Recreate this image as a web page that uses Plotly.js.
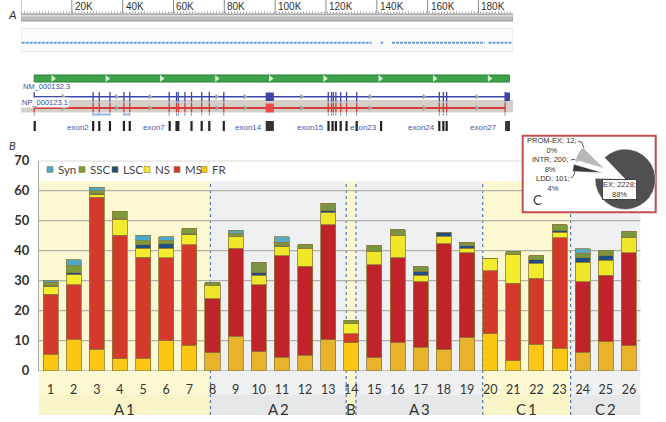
<!DOCTYPE html>
<html><head><meta charset="utf-8">
<script src="https://cdn.plot.ly/plotly-3.0.1.min.js"></script>
<style>html,body{margin:0;padding:0;background:#fff}#chart{width:666px;height:422px}</style>
</head><body><div id="chart"></div>
<script>
// ================= Panel B data =================
const categories = [1,2,3,4,5,6,7,8,9,10,11,12,13,14,15,16,17,18,19,20,21,22,23,24,25,26];
const seriesNames = ['FR','MS','NS','LSC','SSC','Syn'];
const FR  = [5.5,10.5,7.2,4.0,4.2,10.0,8.5,6.0,11.5,6.3,4.5,5.2,10.3,9.3,4.3,9.4,7.8,7.0,11.0,12.4,3.3,8.9,7.5,6.1,9.6,8.3];
const MS  = [20.0,18.2,50.7,41.2,33.7,27.7,33.5,18.0,29.4,22.4,33.8,29.6,38.4,3.0,31.0,28.3,21.8,35.3,28.4,21.0,25.8,22.0,36.9,23.5,22.2,31.0];
const NS  = [2.5,3.3,0.8,5.3,3.0,3.2,3.4,4.3,3.9,3.1,3.1,5.8,3.9,3.3,4.3,7.5,2.2,2.5,1.5,4.0,9.5,5.0,1.7,6.6,5.0,5.2];
const LSC = [0.5,0.6,0.5,0.3,1.1,1.4,0.5,0,0,1.0,0.3,0,0.8,0,0,0,1.4,1.3,0.8,0,0,1.1,0.7,1.4,1.5,0];
const SSC = [1.0,2.4,0.8,2.4,1.3,1.0,1.4,1.1,0.8,3.3,1.2,1.4,2.5,1.2,2.2,1.8,1.4,0,1.1,0,1.0,1.4,1.9,1.6,1.9,2.0];
const Syn = [0.6,2.0,1.1,0,1.9,1.3,0,0,1.2,0,1.7,0,0,0,0,0,0,0,0,0,0,0,0,1.4,0,0];
const yTicks = [0,10,20,30,40,50,60,70];
const regionNames = ['A1','A2','B','A3','C1','C2'];
const regionStart = [0.5,7.91,13.78,14.2,19.68,23.48];
const regionEnd   = [7.91,13.78,14.2,19.68,23.48,26.5];
const regionTone  = ['y','g','y','g','y','g'];
// ================= Panel C data =================
const pieLabels = ['EX','LDD','INTR','PROM-EX'];
const pieValues = [2228,101,200,12];
const piePercents = ['88%','4%','8%','0%'];
// ================= Panel A data (bp) =================
const rulerTicks = [20000,40000,60000,80000,100000,120000,140000,160000,180000];
const rulerTickText = ['20K','40K','60K','80K','100K','120K','140K','160K','180K'];
const geneStart = 5200, geneEnd = 192400, npEnd = 190500;
const exonTicks = [5200,28400,30800,35000,40500,42800,58300,61200,61900,64500,67100,71100,74100,79800,120900,122200,122900,123900,125800,128100,132100,164600,166200,167500,190500];
const exonBlocks = [[96300,99500],[190500,192400]];
const exonBars = [5400,28400,30800,35000,40500,42800,58500,61200,61900,67100,71100,74100,79800,121000,122600,123900,125800,128100,132100,141700,164600,166200,167500];
const exonLabelText = ['exon2','exon7','exon14','exon15','exon23','exon24','exon27'];
const exonLabelPos  = [28100,57900,96000,120300,141300,164200,188500];
const intronArrows = [16600,37600,50700,77000,88100,110400,137300,158600,179300];
const strandArrows = [12600,33900,55300,77000,98200,119600,141300,162700,184300];
const snpSegments = [[300,138000],[141500,142500],[146000,182500],[184000,193000]];
const lightBlueSegs = [[28000,35000],[40500,42800]];

// ================= helpers / layout constants =================
const W = 666, H = 422;
const px = v => v / W, py = v => 1 - v / H;
const xDom = [px(39), px(640.5)], yDom = [py(370.7), py(160.7)];
const gxDom = [px(21), px(513)], gyDom = [py(135), 1];
const gxMax = 193600;
const FONT = 'Lato, "Open Sans", sans-serif';
const SANS = '"Liberation Sans", Arial, sans-serif';

const colBright = {FR:'#fcc712', MS:'#d33a2c', NS:'#f3ec2c', LSC:'#1f4f80', SSC:'#7c9c3c', Syn:'#4ea8cc'};
const colDull   = {FR:'#e9b22b', MS:'#c0242b', NS:'#efe62a', LSC:'#1f4f80', SSC:'#7a9440', Syn:'#5aaac4'};
const seriesData = {FR, MS, NS, LSC, SSC, Syn};

function toneOf(c) {
  for (let i = 0; i < regionNames.length; i++) if (c >= regionStart[i] && c < regionEnd[i]) return regionTone[i];
  return 'g';
}
const traces = [];
seriesNames.forEach(n => {
  traces.push({
    type: 'bar', name: n, x: categories, y: seriesData[n], xaxis: 'x', yaxis: 'y',
    marker: {color: categories.map(c => toneOf(c) === 'y' ? colBright[n] : colDull[n]),
             line: {color: '#8c7a3c', width: 0.8}},
    showlegend: false, hoverinfo: 'skip'
  });
});

// ---------- genome track traces ----------
function segs(list, y0, y1) {
  const x = [], y = [];
  list.forEach(p => { x.push(p, p, null); y.push(y0, y1, null); });
  return {x, y};
}
function hsegs(list, yv) {
  const x = [], y = [];
  list.forEach(s => { x.push(s[0], s[1], null); y.push(yv, yv, null); });
  return {x, y};
}
const g = {xaxis: 'x2', yaxis: 'y2', showlegend: false, hoverinfo: 'skip'};
const rt = segs(rulerTicks, 0, 13);
traces.push(Object.assign({type: 'scatter', mode: 'lines', x: rt.x, y: rt.y, line: {color: '#8a8a8a', width: 1}}, g));
const sn = hsegs(snpSegments, 42.7);
traces.push(Object.assign({type: 'scatter', mode: 'lines', x: sn.x, y: sn.y, line: {color: '#6f9ddb', width: 2, dash: '3px,1px'}}, g));
traces.push(Object.assign({type: 'scatter', mode: 'markers', x: strandArrows, y: strandArrows.map(() => 78.5),
  marker: {symbol: 'triangle-right', size: 6, color: '#d9f0d4'}}, g));
// NM transcript
traces.push(Object.assign({type: 'scatter', mode: 'lines', x: [geneStart, geneEnd], y: [96.7, 96.7], line: {color: '#3b46a8', width: 1.5}}, g));
const nt = segs(exonTicks, 92, 101.5);
traces.push(Object.assign({type: 'scatter', mode: 'lines', x: nt.x, y: nt.y, line: {color: '#3b46a8', width: 1.3}}, g));
const ns = segs(exonTicks, 102.5, 104);
traces.push(Object.assign({type: 'scatter', mode: 'lines', x: ns.x, y: ns.y, line: {color: '#5070c0', width: 1}}, g));
traces.push(Object.assign({type: 'scatter', mode: 'markers', x: intronArrows, y: intronArrows.map(() => 96.7),
  marker: {symbol: 'triangle-right', size: 5, color: '#a0a0a0'}}, g));
// NP protein
traces.push(Object.assign({type: 'scatter', mode: 'lines', x: [geneStart, npEnd], y: [108, 108], line: {color: '#d83a3a', width: 2}}, g));
const pt = segs(exonTicks, 103.5, 112.5);
traces.push(Object.assign({type: 'scatter', mode: 'lines', x: pt.x, y: pt.y, line: {color: '#d83a3a', width: 1.3}}, g));
traces.push(Object.assign({type: 'scatter', mode: 'markers', x: intronArrows, y: intronArrows.map(() => 108),
  marker: {symbol: 'triangle-right', size: 5, color: '#a0a0a0'}}, g));
const ps = segs(exonTicks, 113.5, 115.5);
traces.push(Object.assign({type: 'scatter', mode: 'lines', x: ps.x, y: ps.y, line: {color: '#5070c0', width: 1}}, g));
const lb = hsegs(lightBlueSegs, 114.5);
traces.push(Object.assign({type: 'scatter', mode: 'lines', x: lb.x, y: lb.y, line: {color: '#8ab8e8', width: 2}}, g));
// exon bars
const eb = segs(exonBars, 121, 131);
traces.push(Object.assign({type: 'scatter', mode: 'lines', x: eb.x, y: eb.y, line: {color: '#222', width: 2.2}}, g));

// ---------- pie ----------
const pieCx = 614.5, pieCy = 174.5, pieS = 84;
traces.push({
  type: 'pie', labels: pieLabels, values: pieValues, sort: false, direction: 'clockwise', rotation: -43.7,
  pull: [0.39, 0.39, 0.39, 0.39], textinfo: 'none', hoverinfo: 'skip', showlegend: false,
  marker: {colors: ['#505050', '#3a3a3a', '#b8b8b8', '#e6e6e6'], line: {color: '#ffffff', width: 0.5}},
  domain: {x: [px(pieCx - pieS / 2), px(pieCx + pieS / 2)], y: [py(pieCy + pieS / 2), py(pieCy - pieS / 2)]}
});

// ================= shapes =================
const shapes = [];
const toneFill = {y: '#fcf9d2', g: '#eef0f2'};
const toneFill2 = {y: '#f8f4c8', g: '#e6e7e9'};
regionNames.forEach((r, i) => {
  shapes.push({type: 'rect', layer: 'below', xref: 'x', yref: 'paper', x0: regionStart[i], x1: regionEnd[i],
    y0: py(395), y1: py(181), fillcolor: toneFill[regionTone[i]], line: {width: 0}});
  shapes.push({type: 'rect', layer: 'below', xref: 'x', yref: 'paper', x0: regionStart[i], x1: regionEnd[i],
    y0: py(415), y1: py(395), fillcolor: toneFill2[regionTone[i]], line: {width: 0}});
});
regionEnd.slice(0, -1).forEach(b => {
  shapes.push({type: 'line', layer: 'below', xref: 'x', yref: 'paper', x0: b, x1: b, y0: py(415), y1: py(181),
    line: {color: '#4f7cae', width: 1.2, dash: '3px,3px'}});
});
yTicks.forEach(v => {
  shapes.push({type: 'line', layer: 'below', xref: 'paper', yref: 'y', x0: xDom[0], x1: xDom[1], y0: v, y1: v,
    line: {color: '#b2b2aa', width: 1.3}});
});
// pie inset box
shapes.push({type: 'rect', layer: 'below', xref: 'paper', yref: 'paper', x0: px(522.7), x1: px(655.7), y0: py(212.3), y1: py(135.7),
  fillcolor: '#ffffff', line: {color: '#c0504d', width: 2}});
function pth(pts) { return 'M' + pts.map(p => px(p[0]) + ',' + py(p[1])).join(' L'); }
[[[578, 141.5], [581.5, 142], [584, 148]], [[571, 160], [574.5, 159.3], [578, 161.5]], [[571, 178], [573.5, 176], [575, 171]]]
  .forEach(p => shapes.push({type: 'path', layer: 'below', xref: 'paper', yref: 'paper', path: pth(p), line: {color: '#222', width: 0.8}}));

// legend squares
const legendOrder = ['Syn', 'SSC', 'LSC', 'NS', 'MS', 'FR'];
const legendLeft = [47, 79, 112, 144, 174, 201];
legendOrder.forEach((n, i) => {
  shapes.push({type: 'rect', layer: 'above', xref: 'paper', yref: 'paper', x0: px(legendLeft[i]), x1: px(legendLeft[i] + 6),
    y0: py(172.5), y1: py(166.5), fillcolor: colBright[n], line: {color: '#8c7a3c', width: 0.6}});
});

// genome shapes
const gs = (o) => Object.assign({xref: 'x2', yref: 'y2'}, o);
shapes.push(gs({type: 'line', layer: 'below', x0: 0, x1: gxMax, y0: 12.5, y1: 12.5, line: {color: '#999', width: 1.5, dash: '1px,2px'}}));
shapes.push(gs({type: 'line', layer: 'below', x0: 0, x1: 0, y0: 0, y1: 14, line: {color: '#999', width: 1}}));
shapes.push(gs({type: 'rect', layer: 'below', x0: 0, x1: gxMax, y0: 14, y1: 21, fillcolor: '#bdbdbd', line: {color: '#979797', width: 1}}));
shapes.push(gs({type: 'line', layer: 'below', x0: 0, x1: gxMax, y0: 15.8, y1: 15.8, line: {color: '#dedede', width: 1.5}}));
shapes.push(gs({type: 'rect', layer: 'below', x0: 0, x1: gxMax, y0: 28.3, y1: 51.7, fillcolor: '#fbfbfb', line: {color: '#e2e2e2', width: 1}}));
shapes.push(gs({type: 'rect', layer: 'below', x0: geneStart, x1: 192200, y0: 75, y1: 82, fillcolor: '#3ca34b', line: {color: '#2c7f36', width: 1}}));
shapes.push(gs({type: 'rect', layer: 'below', x0: 0, x1: gxMax, y0: 100, y1: 112.5, fillcolor: '#d4cfc7', line: {width: 0}}));
exonBlocks.forEach((b, i) => {
  shapes.push(gs({type: 'rect', layer: 'above', x0: b[0], x1: b[1], y0: 92.5, y1: 101, fillcolor: '#3b46a8', line: {width: 0}}));
  if (i === 0) shapes.push(gs({type: 'rect', layer: 'above', x0: b[0], x1: b[1], y0: 103.5, y1: 112.5, fillcolor: '#ea4a4a', line: {width: 0}}));
  shapes.push(gs({type: 'rect', layer: 'above', x0: b[0], x1: b[1], y0: 121, y1: 131, fillcolor: '#333', line: {width: 0}}));
});

// ================= annotations =================
const ann = [];
const txt = (o) => Object.assign({showarrow: false, xref: 'paper', yref: 'paper', xanchor: 'center', yanchor: 'middle'}, o);
ann.push(txt({x: px(12), y: py(14), text: '<i>A</i>', font: {family: FONT, size: 12, color: '#333'}}));
ann.push(txt({x: px(12), y: py(145), text: '<i>B</i>', font: {family: FONT, size: 11, color: '#333'}}));
ann.push(txt({x: px(537), y: py(200), text: 'C', font: {family: FONT, size: 13, color: '#333'}}));
legendOrder.forEach((n, i) => ann.push(txt({x: px(legendLeft[i] + 9), y: py(169.5), xanchor: 'left',
  text: n, font: {family: FONT, size: 11.5, color: '#444'}})));
regionNames.forEach((r, i) => ann.push(txt({xref: 'x', x: (regionStart[i] + regionEnd[i]) / 2, y: py(409),
  text: r.split('').join('\u2009'), font: {family: FONT, size: 15, color: '#333'}})));
// pie labels
const pieLbl = [[1, 553, 183.3], [2, 550, 164.2], [3, 552, 145.6]];
pieLbl.forEach(([i, x, y]) => {
  ann.push(txt({x: px(x), y: py(y), text: pieLabels[i] + '; ' + pieValues[i] + ';<br>' + piePercents[i],
    font: {family: SANS, size: 7.5, color: '#333'}}));
});
ann.push(txt({x: px(619), y: py(189.5), text: pieLabels[0] + '; ' + pieValues[0] + ';<br>' + piePercents[0],
  font: {family: SANS, size: 7.5, color: '#333'}, bgcolor: '#ffffff', bordercolor: '#444', borderwidth: 1, borderpad: 0}));
// genome labels
rulerTicks.forEach((t, i) => ann.push({showarrow: false, xref: 'x2', yref: 'y2', x: t, y: 6, xanchor: 'left', yanchor: 'middle', xshift: 1,
  text: rulerTickText[i], font: {family: SANS, size: 10, color: '#333'}}));
ann.push({showarrow: false, xref: 'x2', yref: 'y2', x: 0, y: 86, xanchor: 'left', yanchor: 'middle', text: 'NM_000132.3',
  font: {family: SANS, size: 7.5, color: '#3050a0'}});
ann.push({showarrow: false, xref: 'x2', yref: 'y2', x: 0, y: 102.5, xanchor: 'left', yanchor: 'middle', text: 'NP_000123.1',
  bgcolor: 'rgba(255,255,255,0.95)', borderpad: 0, font: {family: SANS, size: 7.5, color: '#3050a0'}});
exonLabelText.forEach((t, i) => ann.push({showarrow: false, xref: 'x2', yref: 'y2', x: exonLabelPos[i], y: 127, xanchor: 'right',
  yanchor: 'middle', xshift: -1, text: t, font: {family: SANS, size: 8, color: '#3a5aa8'}}));

const layout = {
  width: W, height: H, margin: {l: 0, r: 0, t: 0, b: 0}, paper_bgcolor: '#ffffff', plot_bgcolor: 'rgba(0,0,0,0)',
  barmode: 'stack', bargap: 0.35, showlegend: false,
  xaxis: {domain: xDom, anchor: 'y', range: [0.5, 26.5], tickvals: categories, ticktext: categories.map(String),
    ticks: 'outside', ticklen: 7, tickcolor: 'rgba(0,0,0,0)', showgrid: false, zeroline: false, showline: false,
    tickfont: {family: FONT, size: 12.5, color: '#333'}, fixedrange: true},
  yaxis: {domain: yDom, anchor: 'x', range: [0, 70], tickvals: yTicks, ticks: 'outside', ticklen: 6, tickcolor: 'rgba(0,0,0,0)',
    showgrid: false, zeroline: false, showline: true, linecolor: '#aaaaaa', linewidth: 1,
    tickfont: {family: FONT, size: 13, color: '#333', weight: 'bold'}, fixedrange: true},
  xaxis2: {domain: gxDom, anchor: 'y2', range: [0, gxMax], visible: false, fixedrange: true},
  yaxis2: {domain: gyDom, anchor: 'x2', range: [135, 0], visible: false, fixedrange: true},
  shapes: shapes, annotations: ann
};
Plotly.newPlot('chart', traces, layout, {displayModeBar: false, staticPlot: true});
</script></body></html>
